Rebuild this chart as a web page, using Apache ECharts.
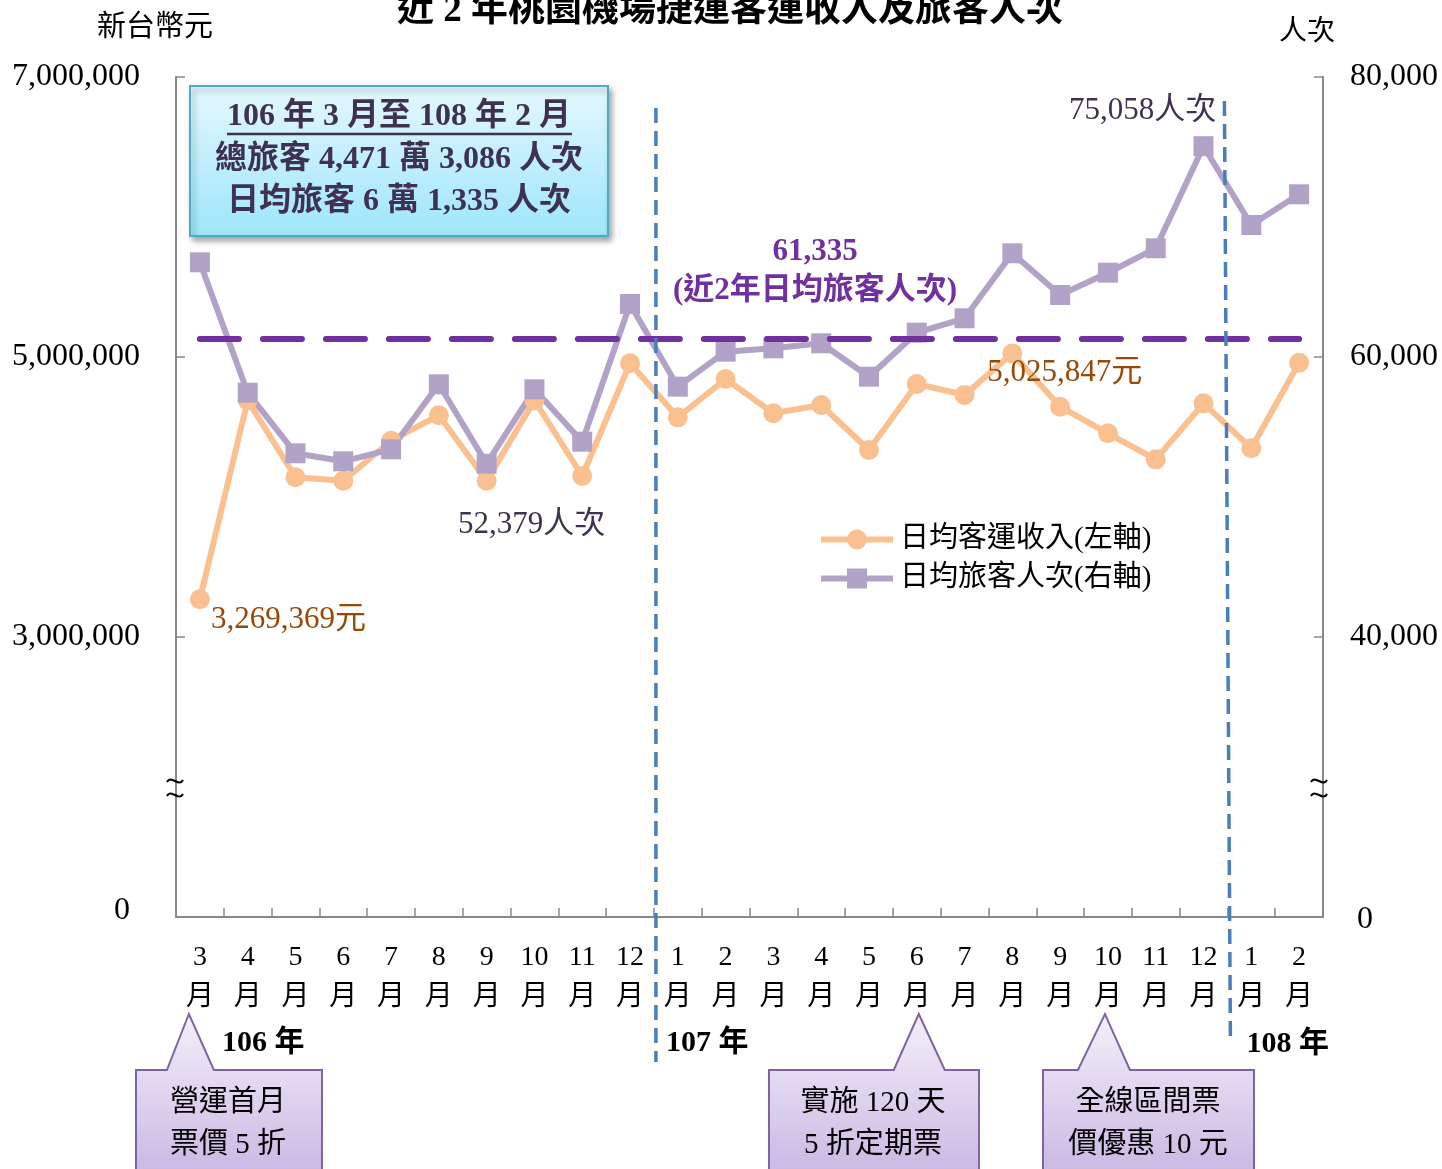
<!DOCTYPE html>
<html><head><meta charset="utf-8">
<script src="https://cdn.jsdelivr.net/npm/echarts@6/dist/echarts.min.js"></script>
<style>html,body{margin:0;padding:0;background:#fff}#c{width:1442px;height:1169px}</style>
</head><body><div id="c"></div>
<script>
// ---------- data ----------
const titleText = '近 2 年桃園機場捷運客運收入及旅客人次';
const months = ['3','4','5','6','7','8','9','10','11','12','1','2','3','4','5','6','7','8','9','10','11','12','1','2'];
const revenue = [3269369, 4690000, 4141000, 4116000, 4402000, 4584000, 4116000, 4690000, 4150000, 4955000,
                 4569000, 4843000, 4598000, 4657000, 4336000, 4807000, 4729000, 5025847, 4645000, 4455000,
                 4269000, 4669000, 4348000, 4959000];
const passengers = [66764, 57450, 53121, 52550, 53407, 58050, 52379, 57693, 53950, 63786,
                    57879, 60379, 60621, 60979, 58593, 61736, 62764, 67407, 64429, 66021,
                    67764, 75058, 69429, 71621];
const avgPassengers = 61335;
const leftTicks = [1000000, 3000000, 5000000, 7000000];
const leftTickLabels = ['0', '3,000,000', '5,000,000', '7,000,000'];
const rightTicks = [20000, 40000, 60000, 80000];
const rightTickLabels = ['0', '40,000', '60,000', '80,000'];
const seriesNames = ['日均客運收入(左軸)', '日均旅客人次(右軸)'];
const yearTexts = ['106 年', '107 年', '108 年'];
const summaryLines = ['106 年 3 月至 108 年 2 月', '總旅客 4,471 萬 3,086 人次', '日均旅客 6 萬 1,335 人次'];
const avgTexts = ['61,335', '(近2年日均旅客人次)'];
const calloutTexts = ['營運首月\n票價 5 折', '實施 120 天\n5 折定期票', '全線區間票\n價優惠 10 元'];
const calloutIdx = [0, 15, 19];

// ---------- styling ----------
const SERIF = "'Liberation Serif','Noto Sans CJK TC',serif";
const fmt = v => v.toLocaleString('en-US');

const revLabels = {
  0: {position: 'right', offset: [-4, 21]},
  17: {position: 'right', offset: [-40, 19]}
};
const paxLabels = {
  6: {position: 'bottom', offset: [45, 31]},
  21: {position: 'top', offset: [-61, -5]}
};

const revData = revenue.map((v, i) => revLabels[i] ? {
  value: v,
  label: Object.assign({show: true, formatter: fmt(v) + '元', color: '#984807', fontSize: 31, fontFamily: SERIF}, revLabels[i])
} : v);
const paxData = passengers.map((v, i) => paxLabels[i] ? {
  value: v,
  label: Object.assign({show: true, formatter: fmt(v) + '人次', color: '#3f3151', fontSize: 31, fontFamily: SERIF}, paxLabels[i])
} : v);

const axisColor = '#888';
const chart = echarts.init(document.getElementById('c'));
chart.setOption({
  animation: false,
  title: {
    text: titleText, left: 392, top: -12,
    textStyle: {fontFamily: SERIF, fontWeight: 'bold', fontSize: 37, color: '#000'}
  },
  legend: {
    orient: 'vertical', left: 813, top: 520, itemWidth: 72, itemHeight: 25, itemGap: 10,
    data: seriesNames,
    lineStyle: {width: 6},
    textStyle: {fontSize: 29, color: '#000', fontFamily: SERIF, padding: [0, 0, 0, 2]}
  },
  grid: {left: 176, right: 119, top: 77, bottom: 252},
  xAxis: {
    type: 'category', data: months, boundaryGap: true,
    axisLine: {lineStyle: {color: axisColor, width: 2}},
    axisTick: {show: true, inside: true, length: 9, interval: 0, lineStyle: {color: axisColor, width: 1.5}},
    axisLabel: {interval: 0, margin: 21, formatter: v => v + '\n月', fontSize: 28, lineHeight: 40,
                color: '#000', fontFamily: SERIF}
  },
  yAxis: [{
    type: 'value', min: 1000000, max: 7000000, interval: 1000000,
    axisLine: {show: true, lineStyle: {color: axisColor, width: 2}},
    axisTick: {show: true, inside: true, length: 9, customValues: leftTicks, lineStyle: {color: axisColor, width: 1.5}},
    splitLine: {show: false},
    axisLabel: {
      customValues: leftTicks, margin: 36, fontSize: 32, color: '#000', fontFamily: SERIF,
      formatter: v => {
        const i = leftTicks.indexOf(v);
        return i === 0 ? '{z|' + leftTickLabels[0] + '}' : leftTickLabels[i];
      },
      rich: {z: {fontSize: 32, fontFamily: SERIF, color: '#000', padding: [0, 10, 12, 0]}}
    }
  }, {
    type: 'value', min: 20000, max: 80000, interval: 10000, position: 'right',
    axisLine: {show: true, lineStyle: {color: axisColor, width: 2}},
    axisTick: {show: true, inside: true, length: 9, customValues: rightTicks, lineStyle: {color: axisColor, width: 1.5}},
    splitLine: {show: false},
    axisLabel: {
      customValues: rightTicks, margin: 27, fontSize: 32, color: '#000', fontFamily: SERIF,
      formatter: v => {
        const i = rightTicks.indexOf(v);
        return i === 0 ? '{z|' + rightTickLabels[0] + '}' : rightTickLabels[i];
      },
      rich: {z: {fontSize: 32, fontFamily: SERIF, color: '#000', padding: [6, 0, 0, 7]}}
    }
  }],
  series: [{
    name: seriesNames[0], type: 'line', yAxisIndex: 0, data: revData,
    symbol: 'circle', symbolSize: 20,
    lineStyle: {color: '#fac090', width: 6},
    itemStyle: {color: '#fac090'}
  }, {
    name: seriesNames[1], type: 'line', yAxisIndex: 1, data: paxData,
    symbol: 'rect', symbolSize: 20,
    lineStyle: {color: '#b3a2c7', width: 6},
    itemStyle: {color: '#b3a2c7'},
    markLine: {
      silent: true, symbol: ['none', 'none'], label: {show: false},
      lineStyle: {color: '#7030a0', width: 6, type: [39, 24], cap: 'round'},
      data: [[{coord: [0, avgPassengers]}, {coord: [months.length - 1, avgPassengers]}]]
    }
  }]
});

// ---------- annotations ----------
const px = i => chart.convertToPixel({xAxisIndex: 0}, i);
const b1 = (px(9) + px(10)) / 2;
const b2 = (px(21) + px(22)) / 2;
const txt = (text, x, y, opts) => ({
  type: 'text', z: 50,
  style: Object.assign({text, x, y, align: 'center', verticalAlign: 'middle', fill: '#000',
                        fontFamily: SERIF, fontSize: 28}, opts || {})
});

const g = [];
// year-divider dashed lines
g.push({type: 'line', z: 40, shape: {x1: b1 + 2, y1: 108, x2: b1 + 2, y2: 1062},
        style: {stroke: '#4a7ebb', lineWidth: 3.5, lineDash: [15, 8]}});
g.push({type: 'line', z: 40, shape: {x1: b2 - 3, y1: 101, x2: b2 + 3, y2: 1040},
        style: {stroke: '#4a7ebb', lineWidth: 3.5, lineDash: [15, 8]}});

// summary box
g.push({type: 'rect', z: 45, shape: {x: 190, y: 86, width: 418, height: 150},
  style: {fill: new echarts.graphic.LinearGradient(0, 0, 0, 1, [{offset: 0, color: '#e5f8fe'}, {offset: 1, color: '#9de6fb'}]),
          stroke: '#4bacc6', lineWidth: 2, shadowBlur: 6, shadowOffsetX: 3, shadowOffsetY: 4, shadowColor: 'rgba(0,0,0,0.35)'}});
[117, 160, 202].forEach((y, i) => g.push(txt(summaryLines[i], 399, y, {fontWeight: 'bold', fontSize: 32, fill: '#3f3151'})));
g.push({type: 'line', z: 50, shape: {x1: 227, y1: 134, x2: 572, y2: 134}, style: {stroke: '#3f3151', lineWidth: 2.5}});

// average label
g.push(txt(avgTexts[0], 815, 252, {fontWeight: 'bold', fontSize: 31, fill: '#7030a0'}));
g.push(txt(avgTexts[1], 815, 291, {fontWeight: 'bold', fontSize: 31, fill: '#7030a0'}));

// axis names
g.push(txt('新台幣元', 155, 28, {fontSize: 29}));
g.push(txt('人次', 1307, 33, {fontSize: 28}));

// axis breaks (two small waves)
[175, 1319].forEach(x => {
  [781, 795].forEach(y => g.push({type: 'bezierCurve', z: 50,
    shape: {x1: x - 8, y1: y + 1, cpx1: x - 4, cpy1: y - 7, cpx2: x + 4, cpy2: y + 7, x2: x + 8, y2: y - 1},
    style: {stroke: '#000', lineWidth: 2, fill: null}}));
});

// year labels
g.push(txt(yearTexts[0], px(0) + 22, 1043, {align: 'left', fontWeight: 'bold', fontSize: 30}));
g.push(txt(yearTexts[1], b1 + 12, 1043, {align: 'left', fontWeight: 'bold', fontSize: 30}));
g.push(txt(yearTexts[2], b2 + 19, 1044, {align: 'left', fontWeight: 'bold', fontSize: 30}));

// callouts
const boxes = [
  {l: 136, r: 322, tipDx: -11, bl: -22, br: 25, tx: 228},
  {l: 769, r: 979, tipDx: 2, bl: -25, br: 26, tx: 873},
  {l: 1043, r: 1254, tipDx: -3, bl: -27, br: 25, tx: 1148}
];
boxes.forEach((b, k) => {
  const tip = px(calloutIdx[k]) + b.tipDx;
  const top = 1070, bot = 1185, tipY = 1014;
  g.push({type: 'polygon', z: 45,
    shape: {points: [[b.l, top], [tip + b.bl, top], [tip, tipY], [tip + b.br, top], [b.r, top], [b.r, bot], [b.l, bot]]},
    style: {fill: new echarts.graphic.LinearGradient(0, 0, 0, 1, [{offset: 0, color: '#f4f0fa'}, {offset: 1, color: '#c6b4e2'}]),
            stroke: '#8064a2', lineWidth: 2}});
  g.push(txt(calloutTexts[k], b.tx, 1124, {fontSize: 29, lineHeight: 42}));
});

chart.setOption({graphic: {elements: g}});
</script></body></html>
